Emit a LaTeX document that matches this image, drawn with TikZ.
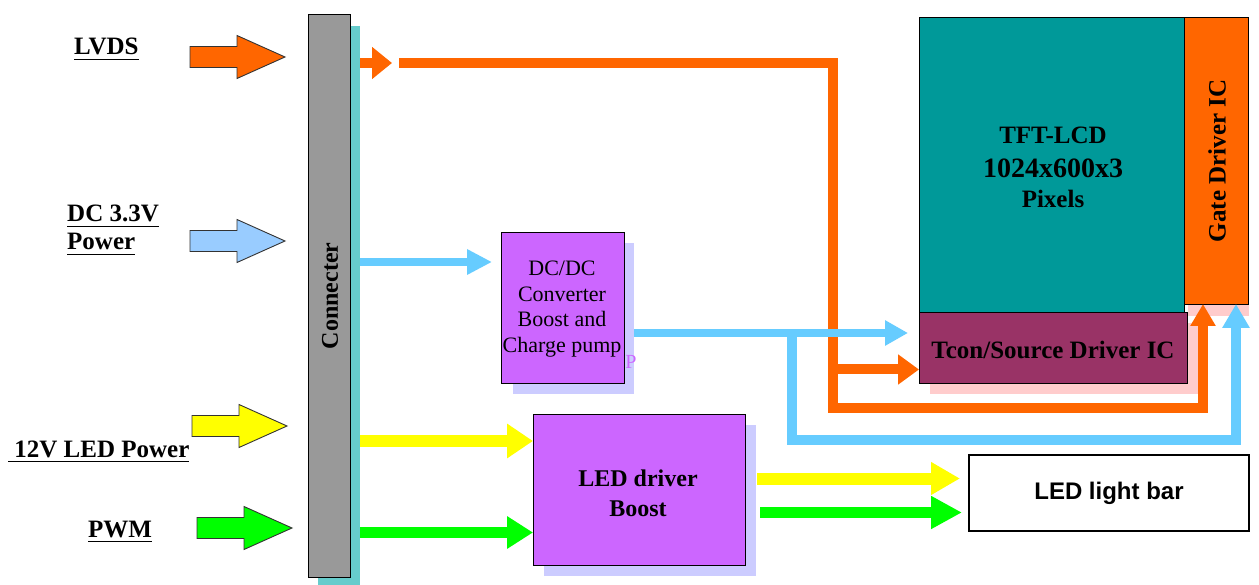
\documentclass[tikz,border=0pt]{standalone}
\usepackage{fontspec}
\setmainfont{Liberation Serif}
\newfontfamily\arialfont{Liberation Sans}
\usetikzlibrary{arrows.meta}
\newcommand{\myul}[1]{\leavevmode\vtop{\hbox{#1}\kern3.5pt\hrule height 1.6pt}}
\definecolor{cOrange}{HTML}{FF6600}
\definecolor{cBlue}{HTML}{66CCFF}
\definecolor{cLBlue}{HTML}{99CCFF}
\definecolor{cYellow}{HTML}{FFFF00}
\definecolor{cGreen}{HTML}{00FF00}
\definecolor{cGray}{HTML}{999999}
\definecolor{cCyan}{HTML}{66CCCC}
\definecolor{cViolet}{HTML}{CC66FF}
\definecolor{cLav}{HTML}{CCCCFF}
\definecolor{cTeal}{HTML}{009999}
\definecolor{cTcon}{HTML}{993366}
\definecolor{cPink}{HTML}{FFCCCC}
\newcommand{\fatarr}[3]{%
  \draw[fatline, fill=#3] (#1,#2-10.5) -- (#1+47,#2-10.5) -- (#1+47,#2-21.5) -- (#1+95,#2)
     -- (#1+47,#2+21.5) -- (#1+47,#2+10.5) -- (#1,#2+10.5) -- cycle;}
\begin{document}
\begin{tikzpicture}[x=1pt,y=-1pt,
  box/.style={draw=black, line width=0.9pt, inner sep=0pt, outer sep=0pt, anchor=north west},
  shbox/.style={inner sep=0pt, outer sep=0pt, anchor=north west},
  fatline/.style={draw=black!80, line width=0.9pt, line join=miter},
  lbl/.style={font=\fontsize{25}{28}\selectfont\bfseries, anchor=base west, inner sep=0pt},
  btxt/.style={font=\fontsize{24}{30}\selectfont\bfseries, inner sep=0pt, align=center},
  bigtxt/.style={font=\fontsize{25}{30}\selectfont\bfseries, inner sep=0pt, align=center},
  oline/.style={draw=cOrange, line width=10pt},
  bline/.style={draw=cBlue, line width=8pt},
  yline/.style={draw=cYellow, line width=12pt},
  gline/.style={draw=cGreen, line width=11pt}
]
\useasboundingbox[fill=white] (0,0) rectangle (1259,585);

% input labels
\node[lbl] (lvdsl) at (74,55) {\myul{LVDS}};
\node[lbl] (dcl) at (67,222) {\myul{DC 3.3V}};
\node[lbl] (dcl2) at (67,250) {\myul{Power}};
\node[lbl] (ledl) at (8,457) {\myul{\ 12V LED Power}};
\node[lbl] (pwml) at (88,537) {\myul{PWM}};

% input block arrows
\fatarr{190}{57}{cOrange}
\fatarr{190}{241}{cLBlue}
\fatarr{192}{426}{cYellow}
\fatarr{197}{528}{cGreen}

% connector
\node[shbox, fill=cCyan, minimum width=42pt, minimum height=560pt] (connsh) at (318,26) {};
\node[box, fill=cGray, minimum width=42pt, minimum height=563pt] (conn) at (308,14) {};
\node[btxt, rotate=90] (connl) at (330,296) {Connecter};

% DC/DC converter
\node[shbox, fill=cLav, minimum width=121pt, minimum height=151pt] (dcdcsh) at (513,243) {};
\node[text=cViolet, font=\fontsize{20}{24}\selectfont, inner sep=0pt] (pstray) at (631,362) {P};
\node[box, fill=cViolet, minimum width=123pt, minimum height=151pt] (dcdc) at (501,232) {};
\node[font=\fontsize{22}{25.5}\selectfont, align=center, inner sep=0pt] (dcdcl) at (562,309)
  {DC/DC\\Converter\\Boost and\\Charge pump};

% LED driver
\node[shbox, fill=cLav, minimum width=212pt, minimum height=151pt] (ledsh) at (544,425) {};
\node[box, fill=cViolet, minimum width=212pt, minimum height=151pt] (led) at (533,414) {};
\node[btxt] (ledt) at (638,493) {LED driver\\Boost};

% panel
\node[shbox, fill=cPink, minimum width=268pt, minimum height=71pt] (tconsh) at (930,323) {};
\node[shbox, fill=cPink, minimum width=61pt, minimum height=16pt] (gatesh) at (1188,300) {};
\node[box, fill=cTeal, minimum width=265pt, minimum height=295pt] (tft) at (919,17) {};
\node[box, fill=cOrange, minimum width=64pt, minimum height=287pt] (gate) at (1184,17) {};
\node[box, fill=cTcon, minimum width=268pt, minimum height=71pt] (tcon) at (919,312) {};
\node[bigtxt] (tftl1) at (1053,135) {TFT-LCD};
\node[font=\fontsize{28}{32}\selectfont\bfseries, inner sep=0pt] (tftl2) at (1053,168) {1024x600x3};
\node[bigtxt] (tftl3) at (1053,199) {Pixels};
\node[bigtxt, rotate=90] (gatel) at (1217,161) {Gate Driver IC};
\node[bigtxt] (tconl) at (1053,350) {Tcon/Source Driver IC};

% LED light bar
\node[box, fill=white, line width=1.2pt, minimum width=280pt, minimum height=76pt] (bar) at (969,455) {};
\node[font=\arialfont\fontsize{24}{28}\selectfont\bfseries, inner sep=0pt] (barl) at (bar.center) {LED light bar};

% connector coordinates
\coordinate (lvA) at (360,63);
\coordinate (lvB) at (392,63);
\coordinate (lvC) at (399,63);
\coordinate (oBr) at (832.5,369.5);
\coordinate (gIn1) at (1203,304);
\coordinate (bInA) at (360,262);
\coordinate (bInB) at (492,262);
\coordinate (bOutA) at (634,333);
\coordinate (bOutB) at (908,333);
\coordinate (bBr) at (792,333);
\coordinate (gIn2) at (1236,304);
\coordinate (yA) at (360,441);
\coordinate (gA) at (360,532.5);
\coordinate (yoA) at (757,478.5);
\coordinate (yoB) at (960,478.5);
\coordinate (goA) at (760,512.5);
\coordinate (goB) at (962,512.5);

% orange LVDS path
\draw[oline, -{Triangle[length=20pt,width=31pt]}] (lvA) -- (lvB);
\draw[oline, -{Triangle[length=22pt,width=24pt]}] (lvC) -- (832.5,63) -- (832.5,408) -- (1203,408) -- (gIn1);
\draw[oline, -{Triangle[length=21pt,width=29pt]}] (oBr) -- (tcon.west |- oBr);

% blue power paths
\draw[bline, -{Triangle[length=25pt,width=24pt]}] (bInA) -- (bInB);
\draw[bline, -{Triangle[length=23pt,width=24pt]}] (bOutA) -- (bOutB);
\draw[draw=cBlue, line width=10pt, -{Triangle[length=24pt,width=26pt]}] (bBr) -- (792,440) -- (1236,440) -- (gIn2);

% LED power and PWM
\draw[yline, -{Triangle[length=26pt,width=33pt]}] (yA) -- (led.west |- yA);
\draw[gline, -{Triangle[length=26pt,width=31pt]}] (gA) -- (led.west |- gA);
\draw[yline, -{Triangle[length=29pt,width=31pt]}] (yoA) -- (yoB);
\draw[gline, -{Triangle[length=31pt,width=31pt]}] (goA) -- (goB);
\end{tikzpicture}
\end{document}
